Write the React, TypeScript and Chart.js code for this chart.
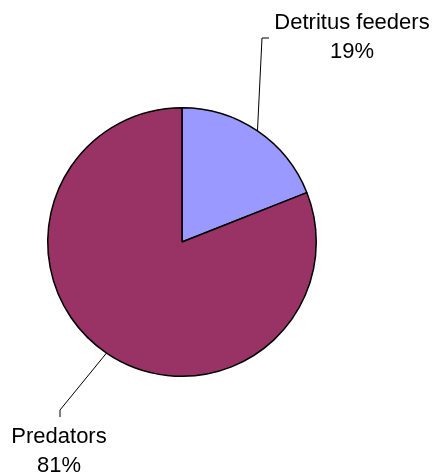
import React, { useEffect, useRef } from "react";
import { Chart, registerables } from "chart.js";

Chart.register(...registerables);

const categories = ["Detritus feeders", "Predators"];
const shares = [19, 81];
const sliceColors = ["#9999FF", "#993366"];

// Leader-line elbows and label anchors for each slice
const elbows = [
  [{ x: 262, y: 38 }, { x: 269, y: 38 }],
  [{ x: 60, y: 410 }, { x: 60, y: 417 }],
];
const labelAnchors = [
  { x: 352, y: 29 },
  { x: 59, y: 443 },
];
const lineGap = 29;

const calloutPlugin = {
  id: "callouts",
  afterDatasetsDraw(chart: any) {
    const ctx = chart.ctx;
    const meta = chart.getDatasetMeta(0);
    ctx.save();
    meta.data.forEach((arc: any, i: number) => {
      const { x, y, startAngle, endAngle, outerRadius } = arc.getProps(
        ["x", "y", "startAngle", "endAngle", "outerRadius"],
        true
      );
      const mid = (startAngle + endAngle) / 2;
      const sx = x + Math.cos(mid) * outerRadius;
      const sy = y + Math.sin(mid) * outerRadius;
      ctx.beginPath();
      ctx.strokeStyle = "#000";
      ctx.lineWidth = 1;
      ctx.moveTo(sx, sy);
      elbows[i].forEach((p) => ctx.lineTo(p.x, p.y));
      ctx.stroke();

      const total = shares.reduce((a, b) => a + b, 0);
      const pct = Math.round((shares[i] / total) * 100) + "%";
      ctx.fillStyle = "#000";
      ctx.font = '22px "Liberation Sans", Arial, sans-serif';
      ctx.textAlign = "center";
      ctx.textBaseline = "alphabetic";
      ctx.fillText(categories[i], labelAnchors[i].x, labelAnchors[i].y);
      ctx.fillText(pct, labelAnchors[i].x, labelAnchors[i].y + lineGap);
    });
    ctx.restore();
  },
};

export default function App() {
  const ref = useRef<HTMLCanvasElement | null>(null);

  useEffect(() => {
    if (!ref.current) return;
    const chart = new Chart(ref.current, {
      type: "pie",
      data: {
        labels: categories,
        datasets: [
          {
            data: shares,
            backgroundColor: sliceColors,
            borderColor: "#000",
            borderWidth: 1.5,
          },
        ],
      },
      options: {
        responsive: false,
        animation: false,
        layout: { padding: { left: 47, right: 116, top: 107, bottom: 96 } },
        plugins: {
          legend: { display: false },
          tooltip: { enabled: false },
        },
      },
      plugins: [calloutPlugin],
    });
    return () => chart.destroy();
  }, []);

  return (
    <div style={{ position: "fixed", left: 0, top: 0, width: 433, height: 473, background: "#fff" }}>
      <canvas ref={ref} width={433} height={473} style={{ display: "block" }} />
    </div>
  );
}
